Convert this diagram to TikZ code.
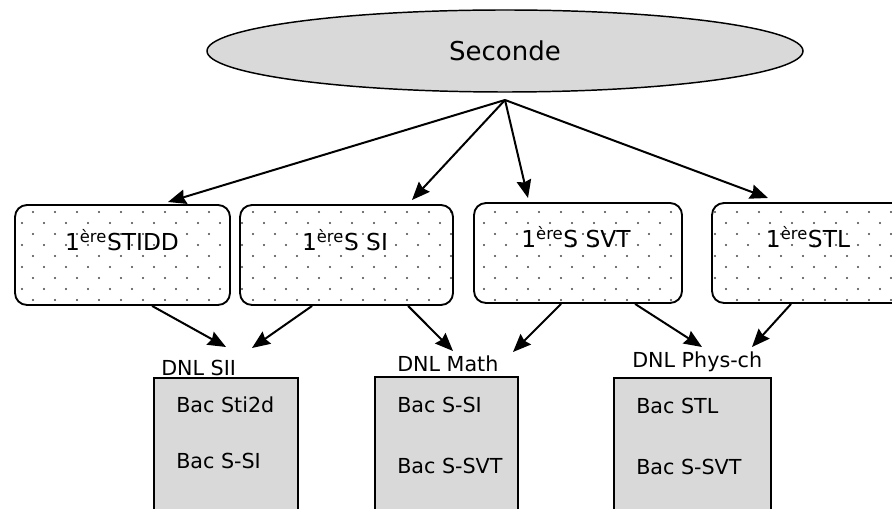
\documentclass[tikz,border=0pt]{standalone}
\usepackage{fontspec}
\setmainfont{DejaVu Sans}
\usetikzlibrary{shapes.geometric,patterns,arrows.meta,calc}
\pgfdeclarepatternformonly{sparsedots}{\pgfpoint{-1pt}{-1pt}}{\pgfpoint{17.5pt}{17.5pt}}{\pgfpoint{16.5pt}{16.5pt}}{%
  \pgfpathcircle{\pgfpoint{0pt}{0pt}}{0.8pt}%
  \pgfpathcircle{\pgfpoint{8.25pt}{8.25pt}}{0.8pt}%
  \pgfusepath{fill}}
\definecolor{boxgray}{HTML}{D9D9D9}
\definecolor{dotgray}{HTML}{444444}
\tikzset{
  x=0.75pt, y=-0.75pt,
  secnode/.style={ellipse, draw, line width=1.1pt, fill=boxgray, minimum width=447pt, minimum height=61.5pt, inner sep=0pt, font=\fontsize{19.5}{22}\selectfont},
  dotbox/.style={draw, line width=1.4pt, rounded corners=9pt, pattern=sparsedots, pattern color=dotgray, minimum height=75pt, inner sep=0pt},
  boxlabel/.style={font=\fontsize{17.5}{20}\selectfont, inner sep=0pt},
  graybox/.style={draw, line width=1.4pt, fill=boxgray, minimum height=112.5pt, inner sep=0pt},
  small/.style={font=\fontsize{15.5}{18}\selectfont, inner sep=0pt, anchor=base west},
  arr/.style={line width=1.5pt, -{Stealth[length=13.5pt,width=11pt,inset=1.5pt]}}
}
\begin{document}
\begin{tikzpicture}
\useasboundingbox (0,0) rectangle (892,509);
\clip (0,0) rectangle (892,509);
% top ellipse
\node[secnode] (sec) at (505,51) {Seconde};
\coordinate (hub) at (505,100);
% dotted boxes
\node[dotbox, minimum width=161.25pt] (b1) at (122.5,255) {};
\node[dotbox, minimum width=159.75pt] (b2) at (346.5,255) {};
\node[dotbox, minimum width=156pt] (b3) at (578,253) {};
\node[dotbox, minimum width=156pt] (b4) at (816,253) {};
\node[boxlabel] (l1) at (122,240) {1\textsuperscript{ère}STIDD};
\node[boxlabel] (l2) at (345,240) {1\textsuperscript{ère}S SI};
\node[boxlabel] (l3) at (576,237) {1\textsuperscript{ère}S SVT};
\node[boxlabel] (l4) at (808,237) {1\textsuperscript{ère}STL};
% arrows from Seconde
\coordinate (e1) at (168,202);
\coordinate (e2) at (412,200);
\coordinate (e3) at (528,198);
\coordinate (e4) at (768,198);
\draw[arr] (hub) -- (e1);
\draw[arr] (hub) -- (e2);
\draw[arr] (hub) -- (e3);
\draw[arr] (hub) -- (e4);
% gray boxes
\node[graybox, minimum width=108pt] (gA) at (226,453) {};
\node[graybox, minimum width=107.25pt] (gB) at (446.5,452) {};
\node[graybox, minimum width=117.75pt] (gC) at (692.5,453) {};
% DNL labels
\node[small] (dA) at (161,375) {DNL SII};
\node[small] (dB) at (397,372) {DNL Math};
\node[small] (dC) at (632,368) {DNL Phys-ch};
% Bac texts
\node[small] (a1) at (176,412) {Bac Sti2d};
\node[small] (a2) at (176,468) {Bac S-SI};
\node[small] (bb1) at (397,412) {Bac S-SI};
\node[small] (bb2) at (397,473) {Bac S-SVT};
\node[small] (c1) at (636,413) {Bac STL};
\node[small] (c2) at (636,474) {Bac S-SVT};
% arrows to DNL
\coordinate (t1) at (226,347);
\coordinate (t2) at (252,348);
\coordinate (t3) at (453,351);
\coordinate (t4) at (513,352);
\coordinate (t5) at (702,347);
\coordinate (t6) at (752,347);
\draw[arr] ($(b1.south west)+(138,0)$) -- (t1);
\draw[arr] ($(b2.south west)+(73,0)$) -- (t2);
\draw[arr] ($(b2.south west)+(169,0)$) -- (t3);
\draw[arr] ($(b3.south west)+(88,0)$) -- (t4);
\draw[arr] ($(b3.south west)+(162,0)$) -- (t5);
\draw[arr] ($(b4.south west)+(80,0)$) -- (t6);
\end{tikzpicture}
\end{document}
